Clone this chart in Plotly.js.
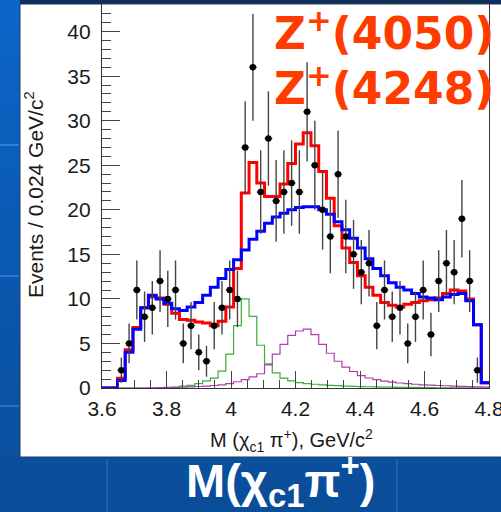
<!DOCTYPE html>
<html>
<head>
<meta charset="utf-8">
<script src="https://cdn.plot.ly/plotly-3.0.1.min.js"></script>
<style>
  html, body { margin:0; padding:0; width:501px; height:512px; overflow:hidden;
    background: linear-gradient(to bottom, #0c66c9 0%, #0a5ab3 45%, #0a4d99 100%); }
  #chart { width:501px; height:512px; }
</style>
</head>
<body>
<div id="chart"></div>
<script>
// Binning of the histogram
const xMin = 3.6, binWidth = 0.024, nBins = 50;

// Observed events per bin (null = empty bin)
const dataCounts = [null,null,2,5,11,8,9,12,10,11,5,7,4,3,7,9,11,10,27,36,22,28,21,22,23,22,31,25,20,17,24,17,15,13,14,7,11,8,9,5,8,11,6,12,14,13,19,12,2,null];

// Total fit (red)
const fitTotal = [0,0,1.1,4.3,6.8,9.0,10.2,10.1,9.4,8.4,7.7,7.6,7.4,7.3,7.0,7.5,9.1,13.4,21.9,25.3,23.0,21.5,21.5,22.9,25.2,27.4,28.65,27.2,24.3,21.3,18.2,15.7,14.1,12.6,11.3,10.4,9.6,9.3,9.1,9.4,9.6,9.8,9.9,10.1,10.6,11.0,10.9,10.0,7.1,0.6];

// Fit without resonances (blue)
const fitNoRes = [0,0,0.85,4.0,6.6,9.0,10.4,10.0,9.5,8.9,8.7,9.1,9.6,10.4,11.3,12.3,13.3,14.4,15.5,16.7,17.6,18.5,19.2,19.6,20.0,20.25,20.35,20.35,20.0,19.5,18.65,17.75,16.8,15.7,14.5,13.4,12.6,11.8,11.3,11.0,10.6,10.2,10.1,9.9,10.2,10.5,10.6,9.8,7.1,0.6];

// Z+(4050) component (green)
const z4050 = [0,0,0,0,0,0,0,0,0.04,0.1,0.2,0.3,0.5,0.8,1.1,1.9,3.8,7.0,10.0,8.05,4.8,2.7,1.7,1.1,0.8,0.6,0.5,0.42,0.36,0.3,0.26,0.22,0.19,0.16,0.14,0.12,0.1,0.09,0.08,0.07,0.06,0.05,0.04,0.03,0.02,0.02,0.01,0.01,0,0];

// Z+(4248) component (magenta)
const z4248 = [0,0,0,0,0,0,0.02,0.04,0.06,0.08,0.1,0.13,0.17,0.22,0.28,0.36,0.5,0.7,0.95,1.25,1.6,2.6,3.8,4.9,5.9,6.4,6.6,6.0,4.9,3.9,3.0,2.35,1.85,1.4,1.12,0.93,0.78,0.65,0.56,0.48,0.42,0.36,0.32,0.28,0.25,0.22,0.19,0.16,0.13,0.1];

// Axis ticks
const xTickVals = [3.6,3.8,4.0,4.2,4.4,4.6,4.8];
const xTickText = ["3.6","3.8","4","4.2","4.4","4.6","4.8"];
const yTickVals = [0,5,10,15,20,25,30,35,40];
const yTickText = ["0","5","10","15","20","25","30","35","40"];

// derived bin geometry
const edges = [];
for (let i = 0; i <= nBins; i++) edges.push(+(xMin + i*binWidth).toFixed(4));
const centers = [];
for (let i = 0; i < nBins; i++) centers.push(+(xMin + (i+0.5)*binWidth).toFixed(4));
function stepY(v){ return v.concat([v[v.length-1]]); }

function stepTrace(vals, color, width){
  return {x: edges, y: stepY(vals), type:'scatter', mode:'lines',
          line:{shape:'hv', color:color, width:width}, hoverinfo:'skip', showlegend:false};
}

const traces = [
  stepTrace(z4050, '#3aae3a', 1.2),
  stepTrace(z4248, '#b03cb0', 1.2),
  stepTrace(fitTotal, '#ff0000', 3),
  stepTrace(fitNoRes, '#0000ff', 3),
  {x: centers, y: dataCounts, type:'scatter', mode:'markers',
   marker:{color:'#000', size:6.5, symbol:'circle'},
   error_y:{type:'data', array: dataCounts.map(v => v==null?null:Math.sqrt(v)), color:'#444', thickness:1.4, width:0},
   error_x:{type:'constant', value: binWidth/2, color:'#444', thickness:1.4, width:0},
   showlegend:false}
];

// pixel -> paper helpers (plot area: x 102..489, y 4..388)
const L = 102, R = 489, T = 4, B = 388;
const px = v => (v - L)/(R - L);
const py = v => (B - v)/(B - T);

const font = 'Liberation Sans, Arial, sans-serif';

const layout = {
  width:501, height:512,
  margin:{l:L, r:501-R, t:T, b:512-B, pad:0},
  paper_bgcolor:'rgba(0,0,0,0)',
  plot_bgcolor:'#ffffff',
  showlegend:false,
  xaxis:{range:[3.6,4.8], tickvals:xTickVals, ticktext:xTickText,
    ticks:'inside', ticklen:17, tickwidth:1, tickcolor:'#444',
    minor:{dtick:0.05, tick0:3.6, ticks:'inside', ticklen:8, tickwidth:1, tickcolor:'#444'},
    showline:true, linecolor:'#333', linewidth:1.2, mirror:true,
    showgrid:false, zeroline:false, ticklabeloverflow:'allow',
    tickfont:{family:font, size:21, color:'#1a1a1a'}, ticklabelstandoff:2},
  yaxis:{range:[0,43.1], tickvals:yTickVals, ticktext:yTickText,
    ticks:'inside', ticklen:18, tickwidth:1, tickcolor:'#444',
    minor:{dtick:1, tick0:0, ticks:'inside', ticklen:9, tickwidth:1, tickcolor:'#444'},
    showline:true, linecolor:'#333', linewidth:1.2, mirror:true,
    showgrid:false, zeroline:false, ticklabeloverflow:'allow',
    tickfont:{family:font, size:21, color:'#1a1a1a'}, ticklabelstandoff:6},
  shapes:[
    {type:'rect', xref:'paper', yref:'paper', x0:px(20), x1:px(506), y0:py(457), y1:py(4),
     fillcolor:'#ffffff', line:{color:'#1b3d6b', width:1}, layer:'below'},
    {type:'rect', xref:'paper', yref:'paper', x0:px(20), x1:px(506), y0:py(4), y1:py(-1),
     fillcolor:'#0b2f60', line:{width:0}, layer:'below'},
    {type:'line', xref:'paper', yref:'paper', x0:px(0), x1:px(19), y0:py(145), y1:py(145), line:{color:'#2e7fd8', width:2}, layer:'below'},
    {type:'line', xref:'paper', yref:'paper', x0:px(0), x1:px(19), y0:py(276), y1:py(276), line:{color:'#2a78cf', width:2}, layer:'below'},
    {type:'line', xref:'paper', yref:'paper', x0:px(0), x1:px(19), y0:py(406), y1:py(406), line:{color:'#2670c4', width:2}, layer:'below'},
    {type:'line', xref:'paper', yref:'paper', x0:px(107), x1:px(107), y0:py(459), y1:py(513), line:{color:'#1f5ea8', width:2}, layer:'below'},
    {type:'line', xref:'paper', yref:'paper', x0:px(397), x1:px(397), y0:py(459), y1:py(513), line:{color:'#1f5ea8', width:2}, layer:'below'}
  ],
  annotations:[
    {xref:'paper', yref:'paper', x:px(34), y:py(195), xanchor:'center', yanchor:'middle', textangle:-90,
     text:'Events / 0.024 GeV/c<sup>2</sup>', showarrow:false, font:{family:font, size:21, color:'#1a1a1a'}},
    {xref:'paper', yref:'paper', x:px(291), y:py(440), xanchor:'center', yanchor:'middle',
     text:'M (χ<sub>c1</sub> π<sup>+</sup>), GeV/c<sup>2</sup>', showarrow:false, font:{family:font, size:20, color:'#1a1a1a'}},
    {xref:'paper', yref:'paper', x:px(280), y:py(480), xanchor:'center', yanchor:'middle',
     text:'<b>M(χ<sub>c1</sub>π<sup>+</sup>)</b>', showarrow:false, font:{family:'Liberation Sans, Arial, sans-serif', size:47, color:'#ffffff'}},
    {xref:'paper', yref:'paper', x:px(272), y:py(30), xanchor:'left', yanchor:'middle',
     text:'<b>Z<sup>+</sup>(4050)</b>', showarrow:false, font:{family:'DejaVu Sans, Verdana, sans-serif', size:44, color:'#ff3c00'}},
    {xref:'paper', yref:'paper', x:px(272), y:py(85), xanchor:'left', yanchor:'middle',
     text:'<b>Z<sup>+</sup>(4248)</b>', showarrow:false, font:{family:'DejaVu Sans, Verdana, sans-serif', size:44, color:'#ff3c00'}}
  ]
};

Plotly.newPlot('chart', traces, layout, {staticPlot:true, displayModeBar:false});
</script>
</body>
</html>
